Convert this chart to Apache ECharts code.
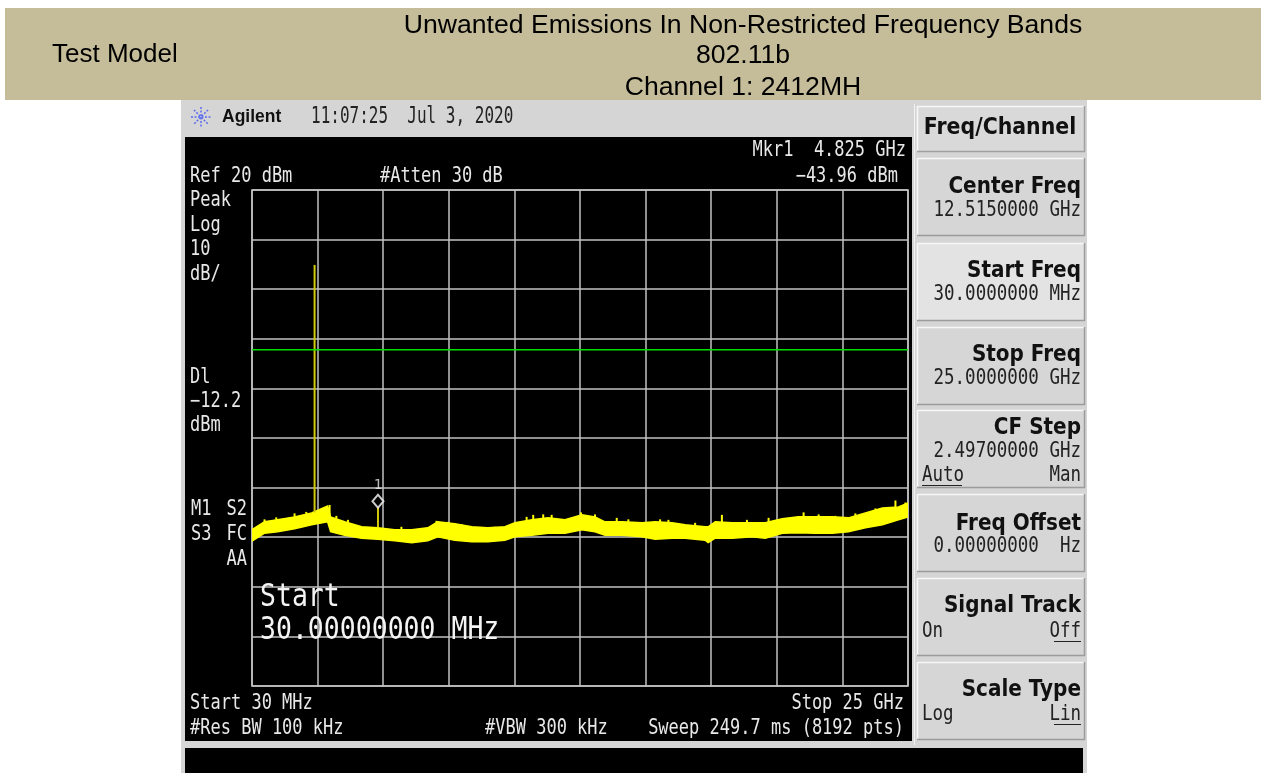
<!DOCTYPE html>
<html>
<head>
<meta charset="utf-8">
<script src="https://cdn.jsdelivr.net/npm/echarts@6/dist/echarts.min.js"></script>
<style>
  body { margin: 0; background: #fff; }
  #main { width: 1261px; height: 773px; }
</style>
</head>
<body>
<div id="main"></div>
<script>
var myChart = echarts.init(document.getElementById('main'));

// trace envelope (MHz / dBm)
var freqMHz = [30, 507, 1002, 1650, 2298, 2908, 3022, 3556, 4204, 4814, 5462, 6110, 6720, 7101, 7749,
    8397, 9007, 9655, 10037, 10685, 11295, 11943, 12590, 13086, 13467, 14115, 14878, 15373, 16021, 16517,
    17279, 17394, 17661, 18308, 19071, 19567, 20215, 20824, 21473, 22120, 22730, 23378, 24026, 24636, 25000];
var upperDbm = [-48.5, -46.9, -46.5, -45.9, -45.1, -43.7, -45.9, -46.9, -47.9, -48.1, -48.5, -48.5, -48.1, -46.9, -47.3,
    -47.9, -48.1, -47.9, -47.1, -46.5, -46.1, -46.5, -45.5, -45.9, -46.9, -46.9, -47.1, -46.9, -47.1, -47.5,
    -47.9, -47.9, -46.9, -47.1, -47.1, -47.1, -46.3, -45.9, -45.9, -45.9, -46.1, -45.1, -44.1, -43.9, -43.1];
var lowerDbm = [-50.8, -49.2, -48.9, -48.3, -47.5, -46.9, -48.9, -49.6, -50.2, -50.4, -50.7, -51.1, -50.7, -49.9, -50.6,
    -50.9, -50.9, -50.6, -49.9, -49.6, -49.2, -49.2, -48.5, -48.9, -49.6, -49.6, -49.9, -50.4, -50.2, -50.2,
    -50.6, -51.1, -50.2, -50.2, -49.9, -50.2, -49.2, -49.1, -49.2, -49.2, -48.9, -48.1, -47.5, -46.5, -45.9];

// single noise spikes sticking out of the band
var spikeFreq = [507, 953, 1650, 2096, 2984, 3240, 3682, 5717, 7052, 7494, 8005, 9274, 10483, 10734, 11115, 11436,
    12552, 13086, 13913, 14356, 15564, 15880, 16898, 17916, 18869, 19693, 21026, 21598, 22235, 22997, 23760, 24522, 24903];
var spikeDbm = [-46.4, -46.0, -45.2, -44.9, -43.5, -45.7, -46.5, -47.9, -46.7, -46.9, -47.4, -47.9, -45.9, -45.5, -45.4, -45.5,
    -45.0, -45.4, -46.1, -46.4, -46.4, -46.5, -47.1, -45.5, -46.5, -46.1, -45.0, -45.4, -45.7, -45.2, -44.2, -42.6, -43.0];

var carrierFreq = [2412, 2412];
var carrierDbm = [-45.0, 4.9];
var markerFreq = 4825;
var markerDbm = -43.96;
var harmonicDbm = [-48.0, -43.96];
var dlFreq = [30, 25000];
var dlDbm = [-12.2, -12.2];

var MONO = '"DejaVu Sans Mono", monospace';
var SANS = '"DejaVu Sans", sans-serif';
var ARIAL = '"Liberation Sans", Arial, sans-serif';

function T(x, y, s, size, o) {
    o = o || {};
    var al = o.align || 'left';
    return {
        type: 'text', x: x, y: y, scaleY: o.sy || 1.2, z: 100,
        style: {
            text: s, x: 0, y: 0,
            fill: o.color || '#e8e8e8',
            font: (o.bold ? 'bold ' : '') + size + 'px ' + (o.family || MONO),
            align: al, textAlign: al,
            verticalAlign: 'middle', textVerticalAlign: 'middle'
        }
    };
}
function R(x, y, w, h, fill, z) {
    return { type: 'rect', z: z || -10, shape: { x: x, y: y, width: w, height: h }, style: { fill: fill } };
}
function L(x1, y1, x2, y2, c, w, z) {
    return { type: 'line', z: z || -5, shape: { x1: x1, y1: y1, x2: x2, y2: y2 }, style: { stroke: c, lineWidth: w || 1 } };
}
function btn(top, fill) {
    return [
        R(917, top, 168, 78, fill, -9),
        L(917, top + 0.5, 1085, top + 0.5, '#f8f8f8', 1.5, -8),
        L(917.5, top, 917.5, top + 78, '#f8f8f8', 1.5, -8),
        L(917, top + 77.5, 1085, top + 77.5, '#9c9c9c', 1.5, -8),
        L(1084.5, top, 1084.5, top + 78, '#9c9c9c', 1.5, -8)
    ];
}

var elements = [
    R(5, 8, 1256, 92, '#c5bc99', -20),
    T(52, 55, 'Test Model', 26, { family: ARIAL, color: '#000', sy: 1 }),
    T(743, 26, 'Unwanted Emissions In Non-Restricted Frequency Bands', 26.6, { family: ARIAL, color: '#000', sy: 1, align: 'center' }),
    T(743, 56, '802.11b', 26.6, { family: ARIAL, color: '#000', sy: 1, align: 'center' }),
    T(743, 88, 'Channel 1: 2412MH', 26.6, { family: ARIAL, color: '#000', sy: 1, align: 'center' }),

    R(181, 100, 906, 673, '#d5d5d5', -20),
    R(185, 137, 727, 604, '#000', -15),
    R(185, 748, 898, 25, '#000', -15),
    L(914.5, 104, 914.5, 745, '#f2f2f2', 1, -12),

    T(222, 117, 'Agilent', 17.5, { family: ARIAL, bold: true, color: '#111', sy: 1.05 }),
    T(311, 117, '11:07:25  Jul 3, 2020', 16, { color: '#222', sy: 1.4 }),

    R(917, 106, 168, 46, '#d9d9d9', -9),
    L(917, 106.5, 1085, 106.5, '#f8f8f8', 1.5, -8),
    L(917.5, 106, 917.5, 152, '#f8f8f8', 1.5, -8),
    L(917, 151.5, 1085, 151.5, '#a0a0a0', 1.5, -8),
    L(1084.5, 106, 1084.5, 152, '#a0a0a0', 1.5, -8),
    T(1000, 128, 'Freq/Channel', 20.5, { family: SANS, bold: true, color: '#111', sy: 1.15, align: 'center' })
];

// Agilent star logo
[0, 45, 90, 135].forEach(function (a) {
    var r = a * Math.PI / 180, dx = Math.cos(r) * 10, dy = Math.sin(r) * 10;
    elements.push({ type: 'line', z: 5, shape: { x1: 201 - dx, y1: 117 - dy, x2: 201 + dx, y2: 117 + dy },
        style: { stroke: '#5b6cf0', lineWidth: 1.5, lineDash: [2, 1.5] } });
});

var btnTops = [158, 243, 327, 410, 494, 578, 662];
btnTops.forEach(function (t, i) {
    elements = elements.concat(btn(t, i === 1 ? '#e3e3e3' : '#d6d6d6'));
});

var KEY = { family: SANS, bold: true, color: '#111', sy: 1.15, align: 'right' };
var VAL = { color: '#222', sy: 1.2, align: 'right' };
elements = elements.concat([
    T(1081, 187, 'Center Freq', 20, KEY),
    T(1081, 211, '12.5150000 GHz', 17.5, VAL),
    T(1081, 271, 'Start Freq', 20, KEY),
    T(1081, 295, '30.0000000 MHz', 17.5, VAL),
    T(1081, 355, 'Stop Freq', 20, KEY),
    T(1081, 379, '25.0000000 GHz', 17.5, VAL),
    T(1081, 428, 'CF Step', 20, KEY),
    T(1081, 452, '2.49700000 GHz', 17.5, VAL),
    T(922, 476, 'Auto', 17.5, { color: '#222', sy: 1.2 }),
    T(1081, 476, 'Man', 17.5, VAL),
    L(922, 485.5, 962, 485.5, '#222', 1, 10),
    T(1081, 524, 'Freq Offset', 20, KEY),
    T(1081, 547, '0.00000000  Hz', 17.5, VAL),
    T(1081, 606, 'Signal Track', 20, KEY),
    T(922, 632, 'On', 17.5, { color: '#222', sy: 1.2 }),
    T(1081, 632, 'Off', 17.5, VAL),
    L(1054, 641.5, 1081, 641.5, '#222', 1, 10),
    T(1081, 690, 'Scale Type', 20, KEY),
    T(922, 715, 'Log', 17.5, { color: '#222', sy: 1.2 }),
    T(1081, 715, 'Lin', 17.5, VAL),
    L(1054, 724.5, 1081, 724.5, '#222', 1, 10),

    // screen annotations
    T(906, 151, 'Mkr1  4.825 GHz', 17, { align: 'right' }),
    T(898, 177, '\u221243.96 dBm', 17, { align: 'right' }),
    T(190, 177, 'Ref 20 dBm', 17),
    T(380, 177, '#Atten 30 dB', 17),
    T(190, 201, 'Peak', 17),
    T(190, 226, 'Log', 17),
    T(190, 250, '10', 17),
    T(190, 275, 'dB/', 17),
    T(190, 378, 'Dl', 17),
    T(190, 402, '\u221212.2', 17),
    T(190, 426, 'dBm', 17),
    T(191, 510, 'M1', 17),
    T(247, 510, 'S2', 17, { align: 'right' }),
    T(191, 535, 'S3', 17),
    T(247, 535, 'FC', 17, { align: 'right' }),
    T(247, 560, 'AA', 17, { align: 'right' }),
    T(260, 598, 'Start', 26.5, { color: '#f4f4f4' }),
    T(260, 631, '30.00000000 MHz', 26.5, { color: '#f4f4f4' }),
    T(190, 704, 'Start 30 MHz', 17),
    T(904, 704, 'Stop 25 GHz', 17, { align: 'right' }),
    T(190, 729, '#Res BW 100 kHz', 17),
    T(485, 729, '#VBW 300 kHz', 17),
    T(904, 729, 'Sweep 249.7 ms (8192 pts)', 17, { align: 'right' })
]);

var gridLine = { show: true, lineStyle: { color: '#c2c2c2', width: 1.5 } };

option = {
    animation: false,
    backgroundColor: '#fff',
    graphic: { elements: elements },
    grid: {
        left: 252, top: 190, width: 656, height: 496,
        show: true, borderColor: '#c2c2c2', borderWidth: 1.5
    },
    xAxis: [
        { type: 'value', min: 30, max: 25000, show: false },
        {
            type: 'value', min: 0, max: 10, interval: 1, position: 'bottom',
            axisLine: { show: false }, axisTick: { show: false }, axisLabel: { show: false },
            splitLine: gridLine
        }
    ],
    yAxis: {
        type: 'value', min: -80, max: 20, interval: 10,
        axisLine: { show: false }, axisTick: { show: false }, axisLabel: { show: false },
        splitLine: gridLine
    },
    series: [
        {
            name: 'band', type: 'custom', xAxisIndex: 0, clip: true, z: 3,
            data: [[freqMHz[0], upperDbm[0]]],
            renderItem: function (params, api) {
                var pts = [], i;
                for (i = 0; i < freqMHz.length; i++) pts.push(api.coord([freqMHz[i], upperDbm[i]]));
                for (i = freqMHz.length - 1; i >= 0; i--) pts.push(api.coord([freqMHz[i], lowerDbm[i]]));
                return { type: 'polygon', shape: { points: pts }, style: { fill: '#ffff00', stroke: '#ffff00', lineWidth: 1.5 } };
            }
        },
        {
            name: 'spikes', type: 'custom', xAxisIndex: 0, clip: true, z: 3,
            data: spikeFreq.map(function (f, i) { return [f, spikeDbm[i]]; }),
            renderItem: function (params, api) {
                var a = api.coord([api.value(0), api.value(1)]);
                var b = api.coord([api.value(0), api.value(1) - 2]);
                return { type: 'line', shape: { x1: a[0], y1: a[1], x2: b[0], y2: b[1] }, style: { stroke: '#ffff00', lineWidth: 2 } };
            }
        },
        {
            name: 'carrier', type: 'line', xAxisIndex: 0, symbol: 'none', z: 4,
            data: carrierFreq.map(function (f, i) { return [f, carrierDbm[i]]; }),
            lineStyle: { color: '#d2ca08', width: 2 }
        },
        {
            name: 'harmonic', type: 'line', xAxisIndex: 0, symbol: 'none', z: 4,
            data: harmonicDbm.map(function (v) { return [markerFreq, v]; }),
            lineStyle: { color: '#d2ca08', width: 2 }
        },
        {
            name: 'display line', type: 'line', xAxisIndex: 0, symbol: 'none', z: 4,
            data: dlFreq.map(function (f, i) { return [f, dlDbm[i]]; }),
            lineStyle: { color: '#00e000', width: 1.5 }
        },
        {
            name: 'marker', type: 'scatter', xAxisIndex: 0, z: 5,
            data: [[markerFreq, markerDbm]],
            symbol: 'diamond', symbolSize: [11, 13], symbolOffset: [0, -6],
            itemStyle: { color: '#000', borderColor: '#fff', borderWidth: 2 },
            label: { show: true, position: 'top', distance: 1, formatter: '1', color: '#e8e8e8', fontFamily: MONO, fontSize: 14 }
        }
    ]
};
myChart.setOption(option);
</script>
</body>
</html>
